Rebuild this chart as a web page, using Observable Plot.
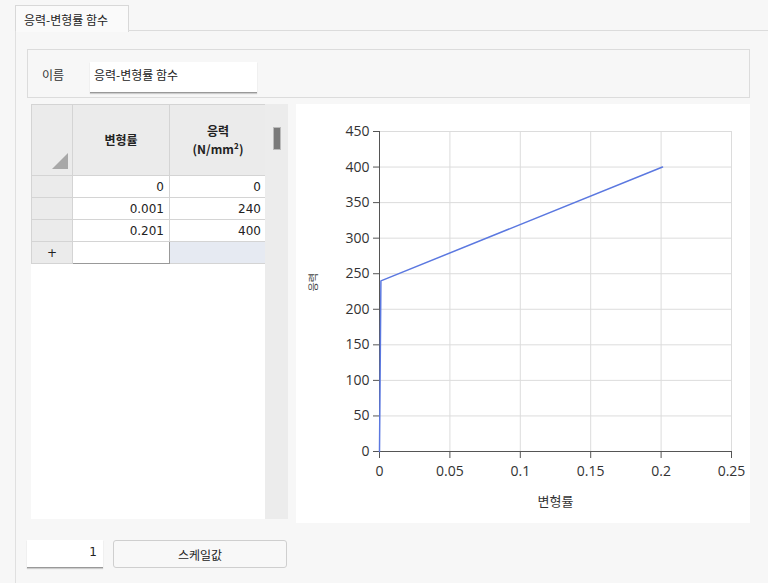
<!DOCTYPE html>
<html><head><meta charset="utf-8">
<script src="https://cdn.jsdelivr.net/npm/d3@7"></script>
<script src="https://cdn.jsdelivr.net/npm/@observablehq/plot@0.6"></script>
<style>
body{margin:0;width:768px;height:583px;background:#f7f7f7;position:relative;overflow:hidden;font-family:"Noto Sans CJK KR","Noto Sans",sans-serif;color:#222}
.abs{position:absolute;box-sizing:border-box}
#tab{left:15px;top:5px;width:114px;height:27px;border:1px solid #d8d8d8;border-bottom:none;background:#fafafa;font-size:12px;padding:5px 0 0 8px}
#tabline{left:128px;top:30px;width:640px;height:1px;background:#dcdcdc}
#vline{left:15px;top:31px;width:1px;height:552px;background:#e0e0e0}
#namepanel{left:27px;top:49px;width:723px;height:49px;border:1px solid #dcdcdc}
#namelbl{left:42px;top:66px;font-size:12px;color:#333}
#nameinput{left:90px;top:62px;width:167px;height:31px;background:#fff;border-bottom:1px solid #999;box-shadow:0 1px 1px #ccc;font-size:12px;padding:4px 0 0 4px}
#tbl{left:31px;top:104px;border-collapse:collapse;font-family:"DejaVu Sans",sans-serif;font-size:12px}
#tbl td{border:1px solid #d4d4d4;padding:0 5px;height:21px;text-align:right;background:#fff}
#tbl td.rh{background:#ebebeb;width:30px}
#tbl tr.hd td{height:70px;background:#ebebeb;text-align:center;font-weight:bold;font-family:"Noto Sans CJK KR",sans-serif;font-size:12px;line-height:18px}
#tblwhite{left:31px;top:104px;width:234px;height:415px;background:#fff}
#sb{left:265px;top:104px;width:23px;height:415px;background:#ececec}
#thumb{left:273px;top:127px;width:8px;height:23px;background:#7a7a7a;border:1px solid #bbb}
#chartbox{left:296px;top:104px;width:454px;height:419px;background:#fff}
#scaleinput{left:27px;top:540px;width:76px;height:28px;background:#fff;border-bottom:1px solid #999;box-shadow:0 1px 1px #ccc;font-size:12px;text-align:right;padding:5px 6px 0 0;font-family:"DejaVu Sans",sans-serif}
#btn{left:113px;top:540px;width:174px;height:28px;border:1px solid #cfcfcf;border-radius:3px;background:#f8f8f8;font-size:12px;text-align:center;padding-top:5px}
</style></head>
<body>
<div id="tab" class="abs">응력-변형률 함수</div>
<div id="tabline" class="abs"></div>
<div id="vline" class="abs"></div>
<div id="namepanel" class="abs"></div>
<div id="namelbl" class="abs">이름</div>
<div id="nameinput" class="abs">응력-변형률 함수</div>
<div id="tblwhite" class="abs"></div>
<table id="tbl" class="abs"></table>
<div id="sb" class="abs"></div>
<div id="thumb" class="abs"></div>
<div id="chartbox" class="abs"></div>
<div id="scaleinput" class="abs">1</div>
<div id="btn" class="abs">스케일값</div>
<script>
const strain = [0, 0.001, 0.201];
const stress = [0, 240, 400];
const xTicks = [0, 0.05, 0.1, 0.15, 0.2, 0.25];
const yTicks = [0, 50, 100, 150, 200, 250, 300, 350, 400, 450];
const xLabel = "변형률";
const yLabel = "응력";
const colHeaders = ["변형률", "응력<br>(N/mm²)"];

// table
const tbl = document.getElementById("tbl");
let html = `<tr class="hd"><td class="rh" style="position:relative"><svg width="16" height="16" style="position:absolute;right:4px;bottom:6px"><polygon points="16,0 16,16 0,16" fill="#a8a8a8"/></svg></td><td style="width:86px">${colHeaders[0]}</td><td style="width:86px">${colHeaders[1]}</td></tr>`;
strain.forEach((s, i) => {
  html += `<tr><td class="rh"></td><td>${s}</td><td>${stress[i]}</td></tr>`;
});
html += `<tr><td class="rh" style="text-align:center">+</td><td style="border:1px solid #999"></td><td style="background:#e6eaf2"></td></tr>`;
tbl.innerHTML = html;

const data = strain.map((s, i) => ({x: s, y: stress[i]}));
const chart = Plot.plot({
  width: 454, height: 419,
  marginLeft: 83, marginTop: 27, marginRight: 19, marginBottom: 72,
  style: {fontFamily: "'Open Sans','Noto Sans',sans-serif", fontSize: "14px", color: "#333", background: "#fff", overflow: "visible"},
  x: {domain: [0, 0.25]},
  y: {domain: [0, 450]},
  marks: [
    Plot.gridX(xTicks, {stroke: "#dcdcdc", strokeOpacity: 1}),
    Plot.gridY(yTicks, {stroke: "#dcdcdc", strokeOpacity: 1}),
    Plot.axisX({ticks: xTicks, tickFormat: d => String(d), tickSize: 7, tickPadding: 8, label: null, stroke: "#555", fill: "#333"}),
    Plot.axisY({ticks: yTicks, tickFormat: d => String(d), tickSize: 6, tickPadding: 4, label: null, stroke: "#555", fill: "#333"}),
    Plot.ruleX([0], {stroke: "#555"}),
    Plot.ruleY([0], {stroke: "#555"}),
    Plot.line(data, {x: "x", y: "y", stroke: "#5b78e0", strokeWidth: 1.5}),
    Plot.text([xLabel], {frameAnchor: "bottom", dy: 54, fontSize: 13, fill: "#333", fontFamily: "Noto Sans CJK KR"}),
    Plot.text([yLabel], {frameAnchor: "left", dx: -66, rotate: -90, fontSize: 10, fill: "#444", fontFamily: "Noto Sans CJK KR"})
  ]
});
chart.style.position = "absolute";
chart.style.left = "296px";
chart.style.top = "104px";
document.body.appendChild(chart);
</script>
</body></html>
